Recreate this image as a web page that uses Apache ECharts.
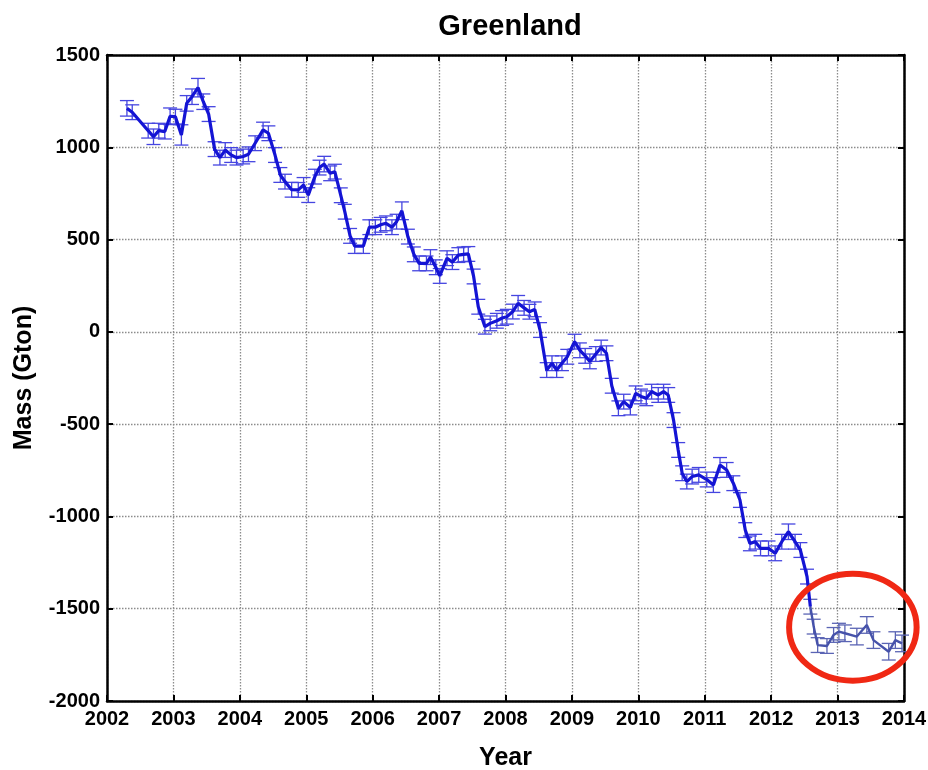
<!DOCTYPE html>
<html>
<head>
<meta charset="utf-8">
<script src="https://cdn.jsdelivr.net/npm/echarts@6/dist/echarts.min.js"></script>
<style>
html,body{margin:0;padding:0;background:#fff;}
#chart{width:928px;height:770px;}
</style>
</head>
<body>
<div id="chart"></div>
<script>
// ---- Data ----
const years = [2002.30,2002.38,2002.62,2002.70,2002.78,2002.87,2002.95,
2003.03,2003.12,2003.20,2003.28,2003.37,2003.45,2003.53,2003.62,2003.70,2003.78,2003.87,2003.95,
2004.05,2004.13,2004.23,2004.35,2004.43,2004.53,2004.61,2004.68,2004.78,2004.88,2004.96,
2005.03,2005.13,2005.20,2005.27,2005.36,2005.43,2005.52,2005.58,2005.66,2005.73,2005.86,2005.95,
2006.04,2006.12,2006.20,2006.29,2006.36,2006.44,2006.53,2006.62,2006.70,2006.81,2006.87,2006.95,
2007.01,2007.12,2007.20,2007.29,2007.37,2007.44,2007.52,2007.59,2007.69,2007.77,2007.87,2007.95,
2008.02,2008.11,2008.19,2008.28,2008.36,2008.44,2008.52,2008.62,2008.70,2008.77,2008.85,2008.93,
2009.04,2009.12,2009.20,2009.27,2009.36,2009.44,2009.52,2009.60,2009.70,2009.78,2009.88,2009.96,
2010.04,2010.12,2010.20,2010.30,2010.38,2010.45,2010.53,2010.60,2010.66,2010.73,2010.81,2010.91,
2011.03,2011.13,2011.23,2011.33,2011.43,2011.53,2011.61,2011.68,2011.76,2011.84,2011.96,
2012.06,2012.16,2012.26,2012.36,2012.44,2012.54,2012.59,2012.64,2012.70,2012.84,2012.94,
2013.02,2013.11,2013.29,2013.44,2013.54,2013.77,2013.87,2013.97];

const mass = [1211,1190,1090,1057,1090,1085,1168,
1166,1067,1238,1274,1323,1247,1180,990,944,985,958,944,
950,962,1022,1094,1076,958,850,814,770,769,796,
741,841,890,909,859,868,740,651,520,465,465,567,
567,580,588,567,597,656,516,420,371,371,405,350,
303,399,378,416,420,422,300,136,28,46,60,75,
82,110,155,130,109,122,10,-207,-170,-207,-170,-135,
-53,-100,-130,-160,-120,-85,-116,-292,-414,-378,-410,-333,
-350,-360,-324,-342,-324,-342,-478,-640,-766,-811,-784,-775,
-800,-830,-721,-748,-820,-911,-1074,-1146,-1137,-1173,-1173,
-1200,-1137,-1083,-1137,-1182,-1326,-1489,-1597,-1697,-1702,-1642,
-1624,-1633,-1651,-1588,-1670,-1733,-1670,-1688];

const errs = [42,40,40,42,40,40,45,
40,55,42,42,50,42,40,40,40,40,40,40,
40,40,40,42,40,40,40,40,40,40,40,
40,40,40,42,40,40,40,40,40,40,40,40,
40,40,40,40,40,48,40,40,40,40,40,40,
40,40,40,40,40,40,40,40,40,40,40,40,
40,40,42,40,40,40,40,40,40,40,40,40,
40,40,40,40,40,40,40,40,40,40,40,40,
40,40,40,40,40,40,40,40,40,40,40,40,
40,40,40,40,40,40,40,40,40,40,40,
40,40,42,40,40,40,40,40,40,40,40,
45,45,45,45,45,45,45,45];

const xTicks = [2002,2003,2004,2005,2006,2007,2008,2009,2010,2011,2012,2013,2014];
const yTicks = [-2000,-1500,-1000,-500,0,500,1000,1500];

const titleText = 'Greenland';
const xName = 'Year';
const yName = 'Mass (Gton)';

// year from which the (pasted-in) tail of the curve is drawn in a greyer blue
const SPLIT_YEAR = 2012.58;
// red annotation ellipse, in data units: centre year, centre mass, half-width (yr), half-height (Gton)
const ring = {year: 2013.23, mass: -1600, halfYears: 0.96, halfMass: 290};

// ---- Build series data ----
const pts = years.map((y, i) => [y, mass[i]]);
const errData = years.map((y, i) => [y, mass[i], errs[i]]);
let splitIdx = years.findIndex(y => y >= SPLIT_YEAR);
const mainPts = pts.slice(0, splitIdx + 1);
const tailPts = pts.slice(splitIdx);

const FONT = 'Liberation Sans, Arial, sans-serif';
const chart = echarts.init(document.getElementById('chart'), null, {renderer: 'canvas'});

const baseAxisLine = {show: true, onZero: false, lineStyle: {color: '#000', width: 2.5}};
const baseTick = {show: true, inside: true, length: 6, lineStyle: {color: '#000', width: 2}};
const gridLine = {show: true, lineStyle: {color: '#8c8c8c', width: 1.3, type: [1.5, 1.5]}};

const option = {
  backgroundColor: '#fff',
  animation: false,
  title: {
    text: titleText,
    left: 505, top: 7, textAlign: 'center',
    textStyle: {fontFamily: FONT, fontSize: 29, fontWeight: 'bold', color: '#000'}
  },
  grid: {left: 107, right: 24, top: 55, bottom: 69, containLabel: false, outerBoundsMode: 'none'},
  xAxis: [{
    type: 'value', min: xTicks[0], max: xTicks[xTicks.length - 1], interval: 1,
    name: xName, nameLocation: 'middle', nameGap: 45,
    nameTextStyle: {fontFamily: FONT, fontSize: 25, fontWeight: 'bold', color: '#000'},
    axisLine: baseAxisLine, axisTick: baseTick,
    axisLabel: {fontFamily: FONT, fontSize: 20, fontWeight: 'bold', color: '#000', margin: 8,
      formatter: v => String(v)},
    splitLine: gridLine
  }, {
    type: 'value', position: 'top', min: xTicks[0], max: xTicks[xTicks.length - 1], interval: 1,
    axisLine: baseAxisLine, axisTick: baseTick, axisLabel: {show: false}, splitLine: {show: false}
  }],
  yAxis: [{
    type: 'value', min: yTicks[0], max: yTicks[yTicks.length - 1], interval: 500,
    name: yName, nameLocation: 'middle', nameGap: 70, nameRotate: 90,
    nameTextStyle: {fontFamily: FONT, fontSize: 25, fontWeight: 'bold', color: '#000'},
    axisLine: baseAxisLine, axisTick: baseTick,
    axisLabel: {fontFamily: FONT, fontSize: 20, fontWeight: 'bold', color: '#000', margin: 7,
      formatter: v => String(v)},
    splitLine: gridLine
  }, {
    type: 'value', position: 'right', min: yTicks[0], max: yTicks[yTicks.length - 1], interval: 500,
    axisLine: baseAxisLine, axisTick: baseTick, axisLabel: {show: false}, splitLine: {show: false}
  }],
  series: [{
    type: 'custom',
    name: 'error',
    xAxisIndex: 0, yAxisIndex: 0,
    data: errData,
    z: 2,
    clip: false,
    renderItem: function (params, api) {
      const x = api.value(0), y = api.value(1), e = api.value(2);
      const hi = api.coord([x, y + e]);
      const lo = api.coord([x, y - e]);
      const hw = 7;
      const c = x >= SPLIT_YEAR ? '#5a64b4' : '#4545e0';
      const st = {stroke: c, lineWidth: 1.3};
      return {
        type: 'group',
        children: [
          {type: 'line', shape: {x1: hi[0], y1: hi[1], x2: lo[0], y2: lo[1]}, style: st},
          {type: 'line', shape: {x1: hi[0] - hw, y1: hi[1], x2: hi[0] + hw, y2: hi[1]}, style: st},
          {type: 'line', shape: {x1: lo[0] - hw, y1: lo[1], x2: lo[0] + hw, y2: lo[1]}, style: st}
        ]
      };
    }
  }, {
    type: 'line',
    name: 'mass',
    data: mainPts,
    z: 3,
    symbol: 'none',
    lineStyle: {color: '#1414d4', width: 3.2},
    itemStyle: {color: '#1414d4'}
  }, {
    type: 'line',
    name: 'mass tail',
    data: tailPts,
    z: 3,
    symbol: 'none',
    lineStyle: {color: '#4652aa', width: 2.4},
    itemStyle: {color: '#4652aa'}
  }]
};
chart.setOption(option);

// red annotation ring placed through the axes' own scale
const c0 = chart.convertToPixel({xAxisIndex: 0, yAxisIndex: 0}, [ring.year, ring.mass]);
const c1 = chart.convertToPixel({xAxisIndex: 0, yAxisIndex: 0}, [ring.year + ring.halfYears, ring.mass + ring.halfMass]);
chart.setOption({
  graphic: [{
    type: 'ellipse',
    z: 10,
    shape: {cx: c0[0], cy: c0[1], rx: Math.abs(c1[0] - c0[0]), ry: Math.abs(c0[1] - c1[1])},
    style: {fill: 'none', stroke: '#f02814', lineWidth: 6}
  }]
});
</script>
</body>
</html>
